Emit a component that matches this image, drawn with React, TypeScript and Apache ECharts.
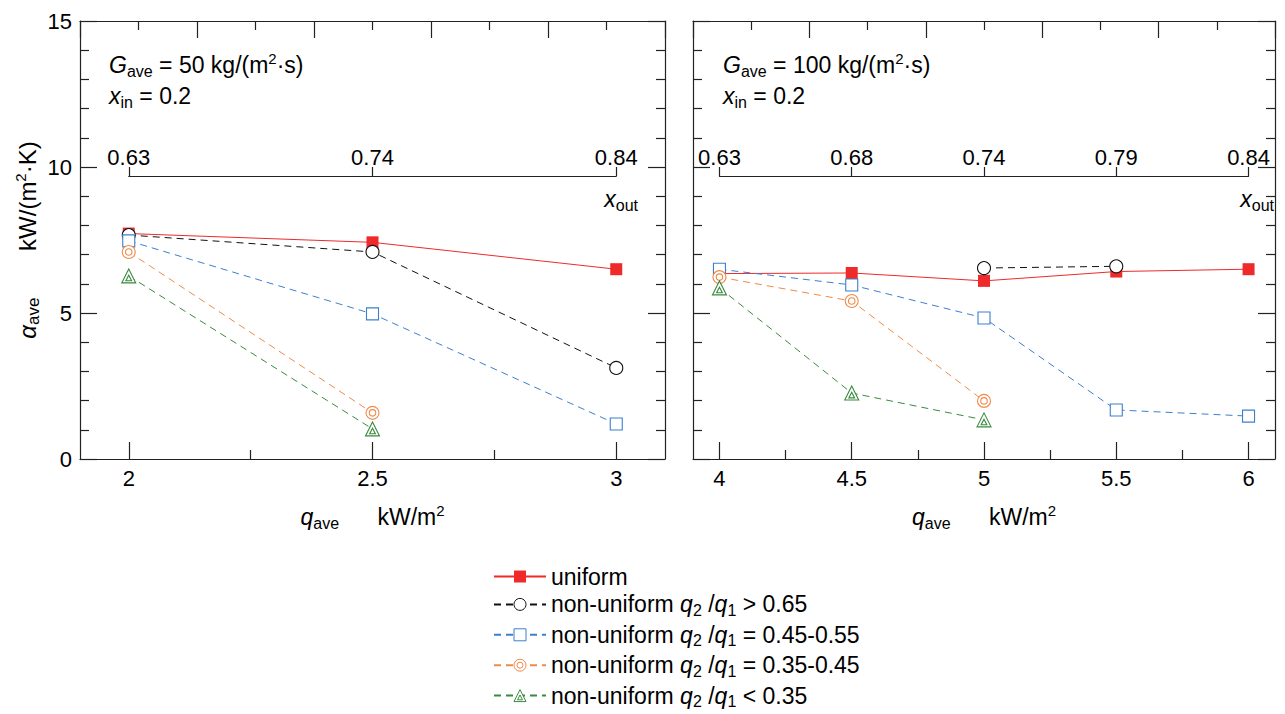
import React, { useEffect, useRef } from 'react';
import * as echarts from 'echarts';

// ---------- data ----------
const qLeft = [2, 2.5, 3];
const qRight = [4, 4.5, 5, 5.5, 6];
const xOutLeft = ['0.63', '0.74', '0.84'];
const xOutRight = ['0.63', '0.68', '0.74', '0.79', '0.84'];

const uniformLeft = [7.72, 7.42, 6.5];
const above065Left = [7.67, 7.09, 3.12];
const mid045Left = [7.47, 4.97, 1.2];
const mid035Left = [7.09, 1.58, null];
const below035Left = [6.27, 1.03, null];

const uniformRight = [6.35, 6.37, 6.1, 6.42, 6.5];
const above065Right = [null, null, 6.54, 6.6, null];
const mid045Right = [6.5, 5.96, 4.83, 1.68, 1.47];
const mid035Right = [6.23, 5.41, 1.99, null, null];
const below035Right = [5.86, 2.26, 1.34, null, null];

const seriesNames = [
  'uniform',
  'non-uniform q2/q1 > 0.65',
  'non-uniform q2/q1 = 0.45-0.55',
  'non-uniform q2/q1 = 0.35-0.45',
  'non-uniform q2/q1 < 0.35',
];

const leftMajorTicks = [2, 2.5, 3];
const leftMinorTicks = [2.25, 2.75];
const rightMajorTicks = [4, 4.5, 5, 5.5, 6];
const rightMinorTicks = [4.25, 4.75, 5.25, 5.75];

// ---------- layout ----------
const FONT = '"Liberation Sans", Arial, Helvetica, sans-serif';
const TOP = 21;
const HEIGHT = 438;
const L = { left: 80, width: 585, min: 1.9, max: 3.1 };
const R = { left: 693, width: 582, min: 3.9, max: 6.1 };
const XOUT_TOP = 176;

const AXIS_COLOR = '#222';
const RED = '#EE2A2A';
const BLACK = '#111111';
const BLUE = '#3D7FCC';
const ORANGE = '#F08A48';
const GREEN = '#3A8A3E';

const ringPath = 'path://M2,12 A10,10 0 1,0 22,12 A10,10 0 1,0 2,12 Z M7,12 A5,5 0 1,0 17,12 A5,5 0 1,0 7,12 Z';
const triPath = 'path://M12,1 L23,21 L1,21 Z M12,10 L16.5,18 L7.5,18 Z';

function makeRich(size: number, sub: number, sup: number) {
  const lh = Math.round(size * 1.22);
  const base = { fontFamily: FONT, color: '#000', fontWeight: 'normal' };
  return {
    t: { ...base, fontSize: size, lineHeight: lh },
    i: { ...base, fontSize: size, lineHeight: lh, fontStyle: 'italic' },
    s: { ...base, fontSize: sub, lineHeight: sub, verticalAlign: 'bottom', padding: [lh - sub, 0, 0, 0] },
    p: { ...base, fontSize: sup, lineHeight: sup, verticalAlign: 'top', padding: [0, 0, lh - sup, 0] },
  };
}
const rich = makeRich(23, 16, 15);
const richY = makeRich(24, 17, 15);

function pairs(xs: number[], ys: (number | null)[]) {
  const out: number[][] = [];
  xs.forEach((x, k) => {
    const y = ys[k];
    if (y !== null && y !== undefined) out.push([x, y]);
  });
  return out;
}

function subGrid(g: { left: number; width: number; min: number; max: number }, a: number, b: number) {
  const scale = g.width / (g.max - g.min);
  return { left: g.left + (a - g.min) * scale, width: (b - a) * scale, top: XOUT_TOP, height: 1 };
}

const lineAxisStyle = { lineStyle: { color: AXIS_COLOR, width: 1.2 } };
const tickStyle = { color: AXIS_COLOR, width: 1.2 };
const labelStyle = { fontSize: 22, fontFamily: FONT, color: '#000' };

function mainX(grid: number, g: typeof L, major: number[], minor: number[], name: string) {
  return [
    {
      type: 'value', gridIndex: grid, position: 'bottom', min: g.min, max: g.max,
      axisLine: { show: true, onZero: false, ...lineAxisStyle },
      axisTick: { show: true, inside: true, length: 17, customValues: major, lineStyle: tickStyle },
      axisLabel: { show: true, customValues: major, ...labelStyle, margin: 8 },
      splitLine: { show: false },
      name, nameLocation: 'middle', nameGap: 44,
      nameTextStyle: { rich },
    },
    {
      type: 'value', gridIndex: grid, position: 'bottom', min: g.min, max: g.max,
      axisLine: { show: false },
      axisTick: { show: true, inside: true, length: 9, customValues: minor, lineStyle: tickStyle },
      axisLabel: { show: false },
      splitLine: { show: false },
    },
    {
      type: 'value', gridIndex: grid, position: 'top', min: 0, max: 10, interval: 2,
      axisLine: { show: true, onZero: false, ...lineAxisStyle },
      axisTick: { show: true, inside: true, length: 17, lineStyle: tickStyle },
      minorTick: { show: true, splitNumber: 2, length: 9, lineStyle: tickStyle },
      axisLabel: { show: false },
      splitLine: { show: false },
    },
  ];
}

function mainY(grid: number, showLabel: boolean, position: 'left' | 'right', name?: string) {
  return {
    type: 'value', gridIndex: grid, position, min: 0, max: 15, interval: 5,
    axisLine: { show: true, onZero: false, ...lineAxisStyle },
    axisTick: { show: true, inside: true, length: 17, lineStyle: tickStyle },
    minorTick: { show: true, splitNumber: 5, length: 9, lineStyle: tickStyle },
    axisLabel: { show: showLabel, ...labelStyle, margin: 8 },
    splitLine: { show: false },
    ...(name ? { name, nameLocation: 'middle', nameGap: 38, nameRotate: 90, nameTextStyle: { rich: richY } } : {}),
  };
}

function xOutAxis(grid: number, data: string[]) {
  return {
    type: 'category', gridIndex: grid, position: 'top', data, boundaryGap: false,
    axisLine: { show: true, onZero: false, ...lineAxisStyle },
    axisTick: { show: true, inside: false, length: 9, interval: 0, lineStyle: tickStyle },
    axisLabel: { show: true, interval: 0, ...labelStyle, margin: 8 },
    splitLine: { show: false },
  };
}

type Style = { color: string; symbol: string; size: number; filled: boolean; dashed: boolean };
const styles: Style[] = [
  { color: RED, symbol: 'rect', size: 12, filled: true, dashed: false },
  { color: BLACK, symbol: 'circle', size: 13, filled: false, dashed: true },
  { color: BLUE, symbol: 'rect', size: 12, filled: false, dashed: true },
  { color: ORANGE, symbol: ringPath, size: 13, filled: false, dashed: true },
  { color: GREEN, symbol: triPath, size: 14, filled: false, dashed: true },
];

function makeSeries(k: number, data: number[][], xi: number, yi: number) {
  const s = styles[k];
  return {
    type: 'line', name: seriesNames[k], xAxisIndex: xi, yAxisIndex: yi, data,
    clip: false,
    symbol: s.symbol, symbolSize: s.size,
    lineStyle: { color: s.color, width: 1, type: s.dashed ? [7, 5] : 'solid' },
    itemStyle: s.filled
      ? { color: s.color, borderWidth: 0 }
      : { color: '#fff', borderColor: s.color, borderWidth: 1.1 },
    color: s.color,
    emphasis: { disabled: true },
  };
}

export default function App() {
  const ref = useRef<HTMLDivElement>(null);
  useEffect(() => {
    if (!ref.current) return;
    const chart = echarts.init(ref.current, undefined, { renderer: 'svg' });
    const leftSets = [uniformLeft, above065Left, mid045Left, mid035Left, below035Left];
    const rightSets = [uniformRight, above065Right, mid045Right, mid035Right, below035Right];
    const series: any[] = [];
    leftSets.forEach((ys, k) => series.push(makeSeries(k, pairs(qLeft, ys), 0, 0)));
    rightSets.forEach((ys, k) => series.push(makeSeries(k, pairs(qRight, ys), 3, 2)));

    const legendData = seriesNames.map((name, k) => {
      const s = styles[k];
      return s.filled
        ? { name }
        : { name, itemStyle: { color: '#fff', borderColor: s.color, borderWidth: 1 } };
    });

    const qName = '{i|q}{s|ave}{t|      kW/m}{p|2}';
    const option: any = {
      animation: false,
      backgroundColor: '#fff',
      textStyle: { fontFamily: FONT },
      grid: [
        { left: L.left, width: L.width, top: TOP, height: HEIGHT },
        { left: R.left, width: R.width, top: TOP, height: HEIGHT },
        subGrid(L, qLeft[0], qLeft[qLeft.length - 1]),
        subGrid(R, qRight[0], qRight[qRight.length - 1]),
      ],
      xAxis: [
        ...mainX(0, L, leftMajorTicks, leftMinorTicks, qName),
        ...mainX(1, R, rightMajorTicks, rightMinorTicks, qName),
        xOutAxis(2, xOutLeft),
        xOutAxis(3, xOutRight),
      ],
      yAxis: [
        mainY(0, true, 'left', '{i|α}{s|ave}{t|       kW/(m}{p|2}{t|·K)}'),
        mainY(0, false, 'right'),
        mainY(1, false, 'left'),
        mainY(1, false, 'right'),
        { type: 'value', gridIndex: 2, show: false },
        { type: 'value', gridIndex: 3, show: false },
      ],
      title: [
        { text: '{i|G}{s|ave}{t| = 50 kg/(m}{p|2}{t|·s)}', left: 109, top: 51, padding: 0, textStyle: { rich } },
        { text: '{i|x}{s|in}{t| = 0.2}', left: 109, top: 82, padding: 0, textStyle: { rich } },
        { text: '{i|G}{s|ave}{t| = 100 kg/(m}{p|2}{t|·s)}', left: 723, top: 51, padding: 0, textStyle: { rich } },
        { text: '{i|x}{s|in}{t| = 0.2}', left: 723, top: 82, padding: 0, textStyle: { rich } },
        { text: '{i|x}{s|out}', right: 647, top: 185, padding: 0, textStyle: { rich } },
        { text: '{i|x}{s|out}', right: 11, top: 185, padding: 0, textStyle: { rich } },
      ],
      legend: {
        orient: 'vertical', left: 493, top: 565, padding: 0, height: 220,
        itemWidth: 52, itemHeight: 15, itemGap: 2.4,
        data: legendData,
        selectedMode: false,
        textStyle: { rich },
        formatter: (name: string) => {
          if (name === 'uniform') return '{t|uniform}';
          const rest = name.replace('non-uniform q2/q1 ', '');
          return '{t|non-uniform }{i|q}{s|2}{t| /}{i|q}{s|1}{t| ' + rest + '}';
        },
      },
      series,
    };
    chart.setOption(option);
    return () => chart.dispose();
  }, []);
  return (
    <div
      ref={ref}
      style={{ position: 'absolute', left: 0, top: 0, width: 1285, height: 714 }}
    />
  );
}
